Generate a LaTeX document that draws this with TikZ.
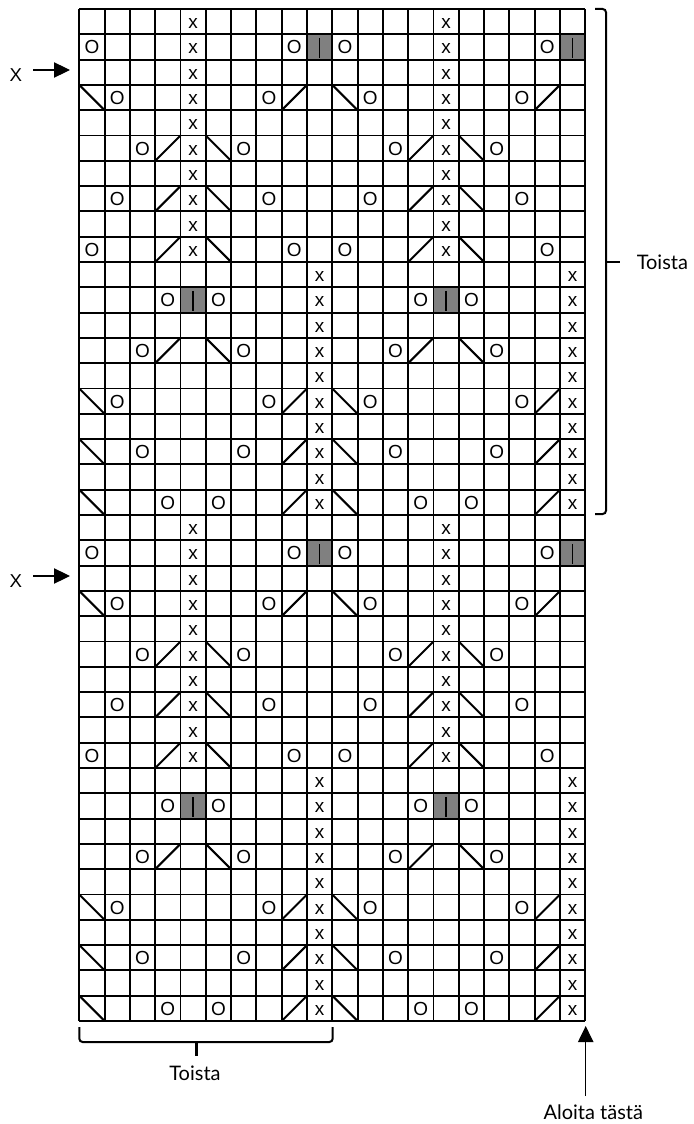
\documentclass[tikz,border=0pt]{standalone}
\usepackage{fontspec}
\setmainfont{Liberation Sans}
\newfontfamily\latofont{Lato}
\usetikzlibrary{arrows.meta}
\definecolor{chartgray}{RGB}{128,128,128}
\tikzset{
  gridline/.style={line width=1.45pt, black},
  diagline/.style={line width=1.5pt, black},
  celltxt/.style={font=\fontsize{14.2}{16}\selectfont, inner sep=0pt, anchor=base},
  graycell/.style={fill=chartgray},
  bracestyle/.style={line width=1.5pt, rounded corners=2.5pt},
  bracetip/.style={line width=2.2pt},
  labeltxt/.style={font=\latofont\fontsize{15}{17}\selectfont, inner sep=0pt},
  sidetxt/.style={font=\fontsize{14}{16}\selectfont, inner sep=0pt, anchor=base},
  ptr/.style={line width=0.8pt, -{Triangle[length=12pt,width=11.5pt]}}
}
\newcommand\ChSymx{\node[celltxt] (n-\rr-\c) at (\xl+12.65,\yt+19.6) {x};}
\newcommand\ChSymo{\node[celltxt] (n-\rr-\c) at (\xl+12.65,\yt+19.6) {O};}
\newcommand\ChSymg{\fill[graycell] (\xl,\yt) rectangle (\xl+25.3,\yt+25.3);
  \draw[line width=1.1pt] (\xl+12.65,\yt+3.5) -- (\xl+12.65,\yt+23.5);}
\newcommand\ChSymf{\draw[diagline] (\xl,\yt+25.3) -- (\xl+25.3,\yt);}
\newcommand\ChSymb{\draw[diagline] (\xl,\yt) -- (\xl+25.3,\yt+25.3);}
\newcommand\DoRow[2]{%
  \pgfmathtruncatemacro\rr{#1}%
  \foreach \c/\s in {#2}{%
    \pgfmathsetmacro\xl{79.3+(\c-1)*25.3}%
    \pgfmathsetmacro\yt{9+(\rr-1)*25.3}%
    \csname ChSym\s\endcsname
  }}
\begin{document}
\begin{tikzpicture}[x=0.75pt,y=-0.75pt]
\useasboundingbox (0,0) rectangle (693,1124);
% chart symbols, two identical blocks
\foreach \bk in {0,20}{
  \DoRow{1+\bk}{5/x,15/x}
  \DoRow{2+\bk}{1/o,5/x,9/o,10/g,11/o,15/x,19/o,20/g}
  \DoRow{3+\bk}{5/x,15/x}
  \DoRow{4+\bk}{1/b,2/o,5/x,8/o,9/f,11/b,12/o,15/x,18/o,19/f}
  \DoRow{5+\bk}{5/x,15/x}
  \DoRow{6+\bk}{3/o,4/f,5/x,6/b,7/o,13/o,14/f,15/x,16/b,17/o}
  \DoRow{7+\bk}{5/x,15/x}
  \DoRow{8+\bk}{2/o,4/f,5/x,6/b,8/o,12/o,14/f,15/x,16/b,18/o}
  \DoRow{9+\bk}{5/x,15/x}
  \DoRow{10+\bk}{1/o,4/f,5/x,6/b,9/o,11/o,14/f,15/x,16/b,19/o}
  \DoRow{11+\bk}{10/x,20/x}
  \DoRow{12+\bk}{4/o,5/g,6/o,10/x,14/o,15/g,16/o,20/x}
  \DoRow{13+\bk}{10/x,20/x}
  \DoRow{14+\bk}{3/o,4/f,6/b,7/o,10/x,13/o,14/f,16/b,17/o,20/x}
  \DoRow{15+\bk}{10/x,20/x}
  \DoRow{16+\bk}{1/b,2/o,8/o,9/f,10/x,11/b,12/o,18/o,19/f,20/x}
  \DoRow{17+\bk}{10/x,20/x}
  \DoRow{18+\bk}{1/b,3/o,7/o,9/f,10/x,11/b,13/o,17/o,19/f,20/x}
  \DoRow{19+\bk}{10/x,20/x}
  \DoRow{20+\bk}{1/b,4/o,6/o,9/f,10/x,11/b,14/o,16/o,19/f,20/x}
}
% grid
\foreach \i in {0,...,20}{
  \draw[gridline] (79.3+\i*25.3,9) -- (79.3+\i*25.3,1021);
}
\foreach \j in {0,...,40}{
  \draw[gridline] (79.3,9+\j*25.3) -- (585.3,9+\j*25.3);
}
% right brace
\draw[bracestyle] (595,9) -- (606,9) -- (606,514) -- (595,514);
\coordinate (rbMid) at (606,262);
\coordinate (rbTip) at (619.5,262);
\draw[bracetip] (rbMid) -- (rbTip);
\node[labeltxt, anchor=base west] (toistaR) at (636.5,269.3) {Toista};
% bottom brace
\draw[bracestyle] (79.3,1027) -- (79.3,1042) -- (332.7,1042) -- (332.7,1027);
\coordinate (bbMid) at (196.7,1042);
\coordinate (bbTip) at (196.7,1055.5);
\draw[bracetip] (bbMid) -- (bbTip);
\node[labeltxt, anchor=base] (toistaB) at (195,1080.7) {Toista};
% start arrow
\node[labeltxt, anchor=base] (aloita) at (593.3,1119.3) {Aloita tästä};
\coordinate (stFrom) at (585.7,1096);
\coordinate (stTip) at (585.7,1026);
\draw[ptr] (stFrom) -- (stTip);
% side markers
\node[sidetxt] (xa) at (15.8,81) {X};
\node[sidetxt] (xb) at (15.8,587.3) {X};
\coordinate (xaFrom) at (33,70);
\coordinate (xaTip) at (70,70);
\coordinate (xbFrom) at (33,576);
\coordinate (xbTip) at (70,576);
\draw[ptr] (xaFrom) -- (xaTip);
\draw[ptr] (xbFrom) -- (xbTip);
\end{tikzpicture}
\end{document}
